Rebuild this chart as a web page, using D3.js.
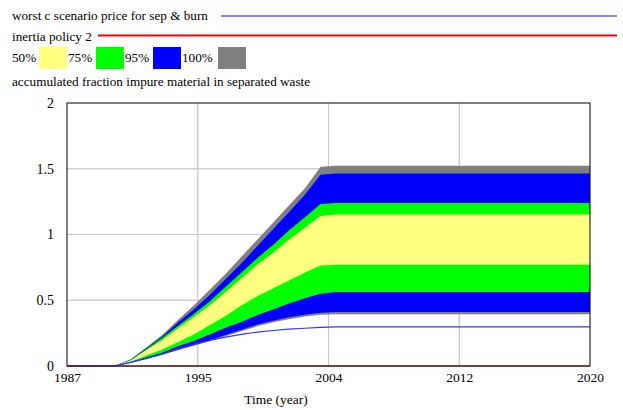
<!DOCTYPE html>
<html>
<head>
<meta charset="utf-8">
<script src="https://cdn.jsdelivr.net/npm/d3@7"></script>
<style>
  body { margin: 0; background: #fff; }
  svg text { font-family: "Liberation Serif", "Times New Roman", Times, "DejaVu Serif", serif !important; fill: #000; }
</style>
</head>
<body>
<svg id="chart" width="623" height="410"></svg>
<script>
// time axis (years)
const years = [1987, 1988, 1989, 1990, 1991, 1992, 1993, 1994, 1995, 1996, 1997, 1998, 1999, 2000, 2001, 2002, 2003, 2004, 2020];

// confidence bounds of accumulated fraction impure material in separated waste
const p100Hi = [0, 0, 0, 0, 0.05, 0.14, 0.235, 0.35, 0.46, 0.58, 0.70, 0.83, 0.96, 1.09, 1.22, 1.35, 1.515, 1.523, 1.523];
const p95Hi  = [0, 0, 0, 0, 0.047, 0.133, 0.222, 0.33, 0.43, 0.54, 0.66, 0.78, 0.91, 1.04, 1.17, 1.30, 1.455, 1.464, 1.464];
const p75Hi  = [0, 0, 0, 0, 0.045, 0.128, 0.212, 0.305, 0.395, 0.49, 0.60, 0.71, 0.82, 0.92, 1.03, 1.13, 1.232, 1.240, 1.240];
const p50Hi  = [0, 0, 0, 0, 0.04, 0.12, 0.195, 0.285, 0.37, 0.46, 0.56, 0.665, 0.77, 0.86, 0.96, 1.05, 1.14, 1.152, 1.152];
const p50Lo  = [0, 0, 0, 0, 0.03, 0.08, 0.125, 0.18, 0.24, 0.31, 0.38, 0.46, 0.53, 0.59, 0.65, 0.71, 0.765, 0.770, 0.770];
const p75Lo  = [0, 0, 0, 0, 0.028, 0.065, 0.10, 0.15, 0.19, 0.24, 0.29, 0.335, 0.385, 0.43, 0.475, 0.515, 0.55, 0.563, 0.563];
const p95Lo  = [0, 0, 0, 0, 0.025, 0.055, 0.088, 0.125, 0.16, 0.195, 0.235, 0.275, 0.315, 0.345, 0.37, 0.39, 0.405, 0.411, 0.411];
const p100Lo = [0, 0, 0, 0, 0.023, 0.052, 0.084, 0.12, 0.154, 0.188, 0.226, 0.264, 0.302, 0.332, 0.356, 0.376, 0.39, 0.394, 0.394];

// single runs
const worstC   = [0, 0, 0, 0, 0.028, 0.06, 0.095, 0.13, 0.165, 0.195, 0.22, 0.24, 0.258, 0.27, 0.28, 0.287, 0.293, 0.298, 0.298];
const inertia2 = [0, 0, 0, 0, 0, 0, 0, 0, 0, 0, 0, 0, 0, 0, 0, 0, 0, 0, 0];

const xTicks = [1987, 1995.25, 2003.5, 2011.75, 2020];
const xTickLabels = ["1987", "1995", "2004", "2012", "2020"];
const yTicks = [0, 0.5, 1, 1.5, 2];
const yTickLabels = ["0", "0.5", "1", "1.5", "2"];

const bands = [
  {lo: p100Lo, hi: p100Hi, color: "#808080"},
  {lo: p95Lo, hi: p95Hi, color: "#0000ff"},
  {lo: p75Lo, hi: p75Hi, color: "#00ff00"},
  {lo: p50Lo, hi: p50Hi, color: "#ffff80"}
];

const svg = d3.select("#chart");
const margin = {top: 103, left: 67, right: 33, bottom: 44};
const width = 623 - margin.left - margin.right;
const height = 410 - margin.top - margin.bottom;

const x = d3.scaleLinear().domain([1987, 2020]).range([margin.left, margin.left + width]);
const y = d3.scaleLinear().domain([0, 2]).range([margin.top + height, margin.top]);

// gridlines
const grid = svg.append("g");
grid.selectAll(".hg").data(yTicks.slice(1, 4)).join("line")
  .attr("x1", x(1987)).attr("x2", x(2020))
  .attr("y1", d => y(d)).attr("y2", d => y(d))
  .attr("stroke", "#c8c8c8").attr("stroke-width", 1);
grid.selectAll(".vg").data(xTicks.slice(1, 4)).join("line")
  .attr("x1", d => x(d)).attr("x2", d => x(d))
  .attr("y1", y(0)).attr("y2", y(2))
  .attr("stroke", "#c8c8c8").attr("stroke-width", 1);

// bands, widest first
const area = (lo, hi) => d3.area()
  .x((d, i) => x(years[i]))
  .y0((d, i) => y(lo[i]))
  .y1((d, i) => y(hi[i]));

svg.append("g").selectAll("path").data(bands).join("path")
  .attr("d", b => area(b.lo, b.hi)(years))
  .attr("fill", b => b.color);

// grid lines show faintly through the bands
grid.clone(true).attr("opacity", 0.6);

const line = vals => d3.line().x((d, i) => x(years[i])).y((d, i) => y(vals[i]))(years);
svg.append("path").attr("d", line(inertia2)).attr("fill", "none").attr("stroke", "#ff0000").attr("stroke-width", 1);
svg.append("path").attr("d", line(worstC)).attr("fill", "none").attr("stroke", "#3333ff").attr("stroke-width", 1.2);

// frame
svg.append("rect")
  .attr("x", x(1987)).attr("y", y(2))
  .attr("width", x(2020) - x(1987)).attr("height", y(0) - y(2))
  .attr("fill", "none").attr("stroke", "#000").attr("stroke-width", 1);

// axes
const yAxis = d3.axisLeft(y).tickValues(yTicks).tickSize(0).tickPadding(13)
  .tickFormat((d, i) => yTickLabels[i]);
svg.append("g").attr("transform", `translate(${x(1987)},0)`).call(yAxis)
  .attr("font-family", null)
  .call(g => g.select(".domain").remove())
  .selectAll("text").style("font-size", "14px");

const xAxis = d3.axisBottom(x).tickValues(xTicks).tickSize(0).tickPadding(6)
  .tickFormat((d, i) => xTickLabels[i]);
svg.append("g").attr("transform", `translate(0,${y(0)})`).call(xAxis)
  .attr("font-family", null)
  .call(g => g.select(".domain").remove())
  .selectAll("text").style("font-size", "13.5px");

svg.append("text").attr("x", 276).attr("y", 404).attr("text-anchor", "middle")
  .style("font-size", "13.5px").text("Time (year)");

// legend
const lg = svg.append("g").style("font-size", "13.2px");
lg.append("text").attr("x", 12).attr("y", 20).text("worst c scenario price for sep & burn");
lg.append("line").attr("x1", 221).attr("x2", 617).attr("y1", 16).attr("y2", 16)
  .attr("stroke", "#5555ff").attr("stroke-width", 1.5);
lg.append("text").attr("x", 12).attr("y", 41).text("inertia policy 2");
lg.append("line").attr("x1", 98).attr("x2", 617).attr("y1", 35.5).attr("y2", 35.5)
  .attr("stroke", "#ff0000").attr("stroke-width", 2);

const swatches = [
  {label: "50%", tx: 12, sx: 39, color: "#ffff80"},
  {label: "75%", tx: 68, sx: 96, color: "#00ff00"},
  {label: "95%", tx: 125, sx: 153, color: "#0000ff"},
  {label: "100%", tx: 182, sx: 218, color: "#808080"}
];
lg.selectAll(".sw").data(swatches).join("rect")
  .attr("x", d => d.sx).attr("y", 47).attr("width", 28).attr("height", 22)
  .attr("fill", d => d.color);
lg.selectAll(".swt").data(swatches).join("text")
  .attr("x", d => d.tx).attr("y", 62).text(d => d.label);
lg.append("text").attr("x", 12).attr("y", 86).text("accumulated fraction impure material in separated waste");
</script>
</body>
</html>
